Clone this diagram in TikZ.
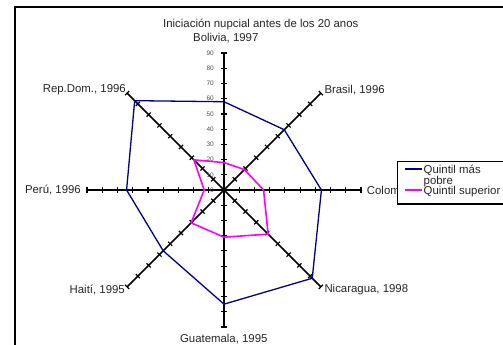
\documentclass[tikz,border=0pt]{standalone}
\usepackage{fontspec}
\setmainfont{Liberation Sans}
\usetikzlibrary{calc}
\definecolor{poor}{RGB}{0,0,128}
\definecolor{rich}{RGB}{255,0,255}
\definecolor{vallab}{RGB}{80,80,80}
\begin{document}
\begin{tikzpicture}[x=1pt,y=-1pt,
  lab/.style={font=\fontsize{11.4}{13}\selectfont, inner sep=0pt, text=black!85},
  vlab/.style={font=\fontsize{6.5}{7}\selectfont, inner sep=0pt, text=vallab, anchor=east},
  axisline/.style={line width=1.6pt, black},
  tickmark/.style={line width=1.2pt, black},
  poorline/.style={line width=1.3pt, poor, line join=round},
  richline/.style={line width=1.6pt, rich, line join=round},
  framebox/.style={line width=1.5pt, black}]
\useasboundingbox (0,0) rectangle (503,345);
\fill[white] (0,0) rectangle (503,345);
\draw[framebox] (15,350) -- (15,7) -- (510,7);
\coordinate (C) at (224,190);
\def\sc{1.522}
% axes and ticks
\foreach \k in {0,...,7} {
  \pgfmathsetmacro\ang{-90+45*\k}
  \draw[axisline] (C) -- ++(\ang:137) coordinate (A\k);
  \foreach \v in {10,20,...,90} {
    \draw[tickmark] (C) ++(\ang:\v*\sc) ++(\ang+90:3) -- ++(\ang-90:6);
  }
}
% value labels
\foreach \v in {0,10,...,90} {
  \node[vlab] (V\v) at ($(C)+(-10,-\v*\sc)$) {\v};
}
% data
\foreach \k/\p/\r in {0/58/18,1/56/19,2/64/26,3/82/41,4/75/31,5/56.5/30.5,6/64/13,7/83/28} {
  \pgfmathsetmacro\ang{-90+45*\k}
  \coordinate (P\k) at ($(C)+(\ang:\p*\sc)$);
  \coordinate (R\k) at ($(C)+(\ang:\r*\sc)$);
}
\draw[poorline] (P0) -- (P1) -- (P2) -- (P3) -- (P4) -- (P5) -- (P6) -- (P7) -- cycle;
\draw[richline] (R0) -- (R1) -- (R2) -- (R3) -- (R4) -- (R5) -- (R6) -- (R7) -- cycle;
% labels
\node[lab] (title) at (260.8,24) {Iniciación nupcial antes de los 20 anos};
\node[lab] (bol) at (225.8,37.7) {Bolivia, 1997};
\node[lab, anchor=west] (bra) at (324.3,90) {Brasil, 1996};
\node[lab, anchor=east] (rep) at (126,90) {Rep.Dom., 1996};
\node[lab, anchor=east] (per) at (81,190) {Perú, 1996};
\node[lab, anchor=west] (col) at (366.7,190) {Colom};
\node[lab, anchor=west] (nic) at (324.3,290) {Nicaragua, 1998};
\node[lab, anchor=east] (hai) at (125,290) {Haití, 1995};
\node[lab] (gua) at (223.8,339.3) {Guatemala, 1995};
% legend
\fill[white] (397.3,161.7) rectangle (510,204);
\draw[framebox] (510,161.7) -- (397.3,161.7) -- (397.3,204) -- (510,204);
\coordinate (L1a) at (405,169);
\coordinate (L1b) at (422,169);
\coordinate (L2a) at (405,190);
\coordinate (L2b) at (422,190);
\draw[poorline] (L1a) -- (L1b);
\draw[richline] (L2a) -- (L2b);
\node[lab, anchor=base west] (leg1) at (423.5,173.5) {Quintil más};
\node[lab, anchor=base west] (leg1b) at (423.5,184.5) {pobre};
\node[lab, anchor=base west] (leg2) at (423.5,194) {Quintil superior};
\end{tikzpicture}
\end{document}
